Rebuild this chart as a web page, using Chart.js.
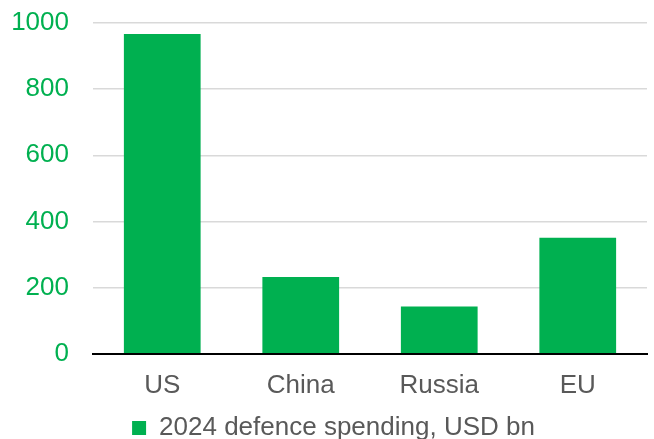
<!DOCTYPE html>
<html lang="en">
  <head>
    <meta charset="UTF-8" />
    <script src="https://cdn.jsdelivr.net/npm/chart.js@4.4.1/dist/chart.umd.min.js"></script>
    <title>Defence spending 2024</title>
    <style>
      html, body { margin: 0; padding: 0; background: #fff; }
    </style>
  </head>
  <body>
    <canvas id="myChart" width="654" height="439"></canvas>

    <script>
      const countries = ["US", "China", "Russia", "EU"];
      const spending = [967, 232, 143, 351];
      const seriesLabel = "2024 defence spending, USD bn";

      const font = { family: "Liberation Sans, Arial", size: 26 };

      // nudge the legend a little, like the original
      const shiftLegend = {
        id: "shiftLegend",
        afterLayout(chart) {
          const lg = chart.legend;
          lg.left += 10;
          lg.right += 10;
          lg.top -= 2;
          lg.bottom -= 2;
        },
      };

      const ctx = document.getElementById("myChart").getContext("2d");
      const myChart = new Chart(ctx, {
        type: "bar",
        data: {
          labels: countries,
          datasets: [
            {
              label: seriesLabel,
              data: spending,
              backgroundColor: "#00b050",
              borderWidth: 0,
              barPercentage: 0.554,
              categoryPercentage: 1,
            },
          ],
        },
        plugins: [shiftLegend],
        options: {
          responsive: false,
          animation: false,
          layout: { padding: { top: 23, right: 7, left: 0, bottom: -14 } },
          plugins: {
            tooltip: { enabled: false },
            legend: {
              position: "bottom",
              labels: {
                color: "#595959",
                font: font,
                boxWidth: 14,
                boxHeight: 14,
                padding: 8,
              },
            },
          },
          scales: {
            x: {
              grid: { display: false },
              border: { color: "#000", width: 2 },
              ticks: { color: "#595959", font: font, padding: 8 },
            },
            y: {
              min: 0,
              max: 1000,
              afterFit(scale) {
                scale.width = 93;
                scale.paddingTop = 0;
              },
              ticks: {
                stepSize: 200,
                color: "#00b050",
                font: font,
                padding: 24,
                callback: (v) => String(v),
              },
              grid: { color: "#d9d9d9", lineWidth: 1.5, drawTicks: false },
              border: { display: false },
            },
          },
        },
      });
    </script>
  </body>
</html>
